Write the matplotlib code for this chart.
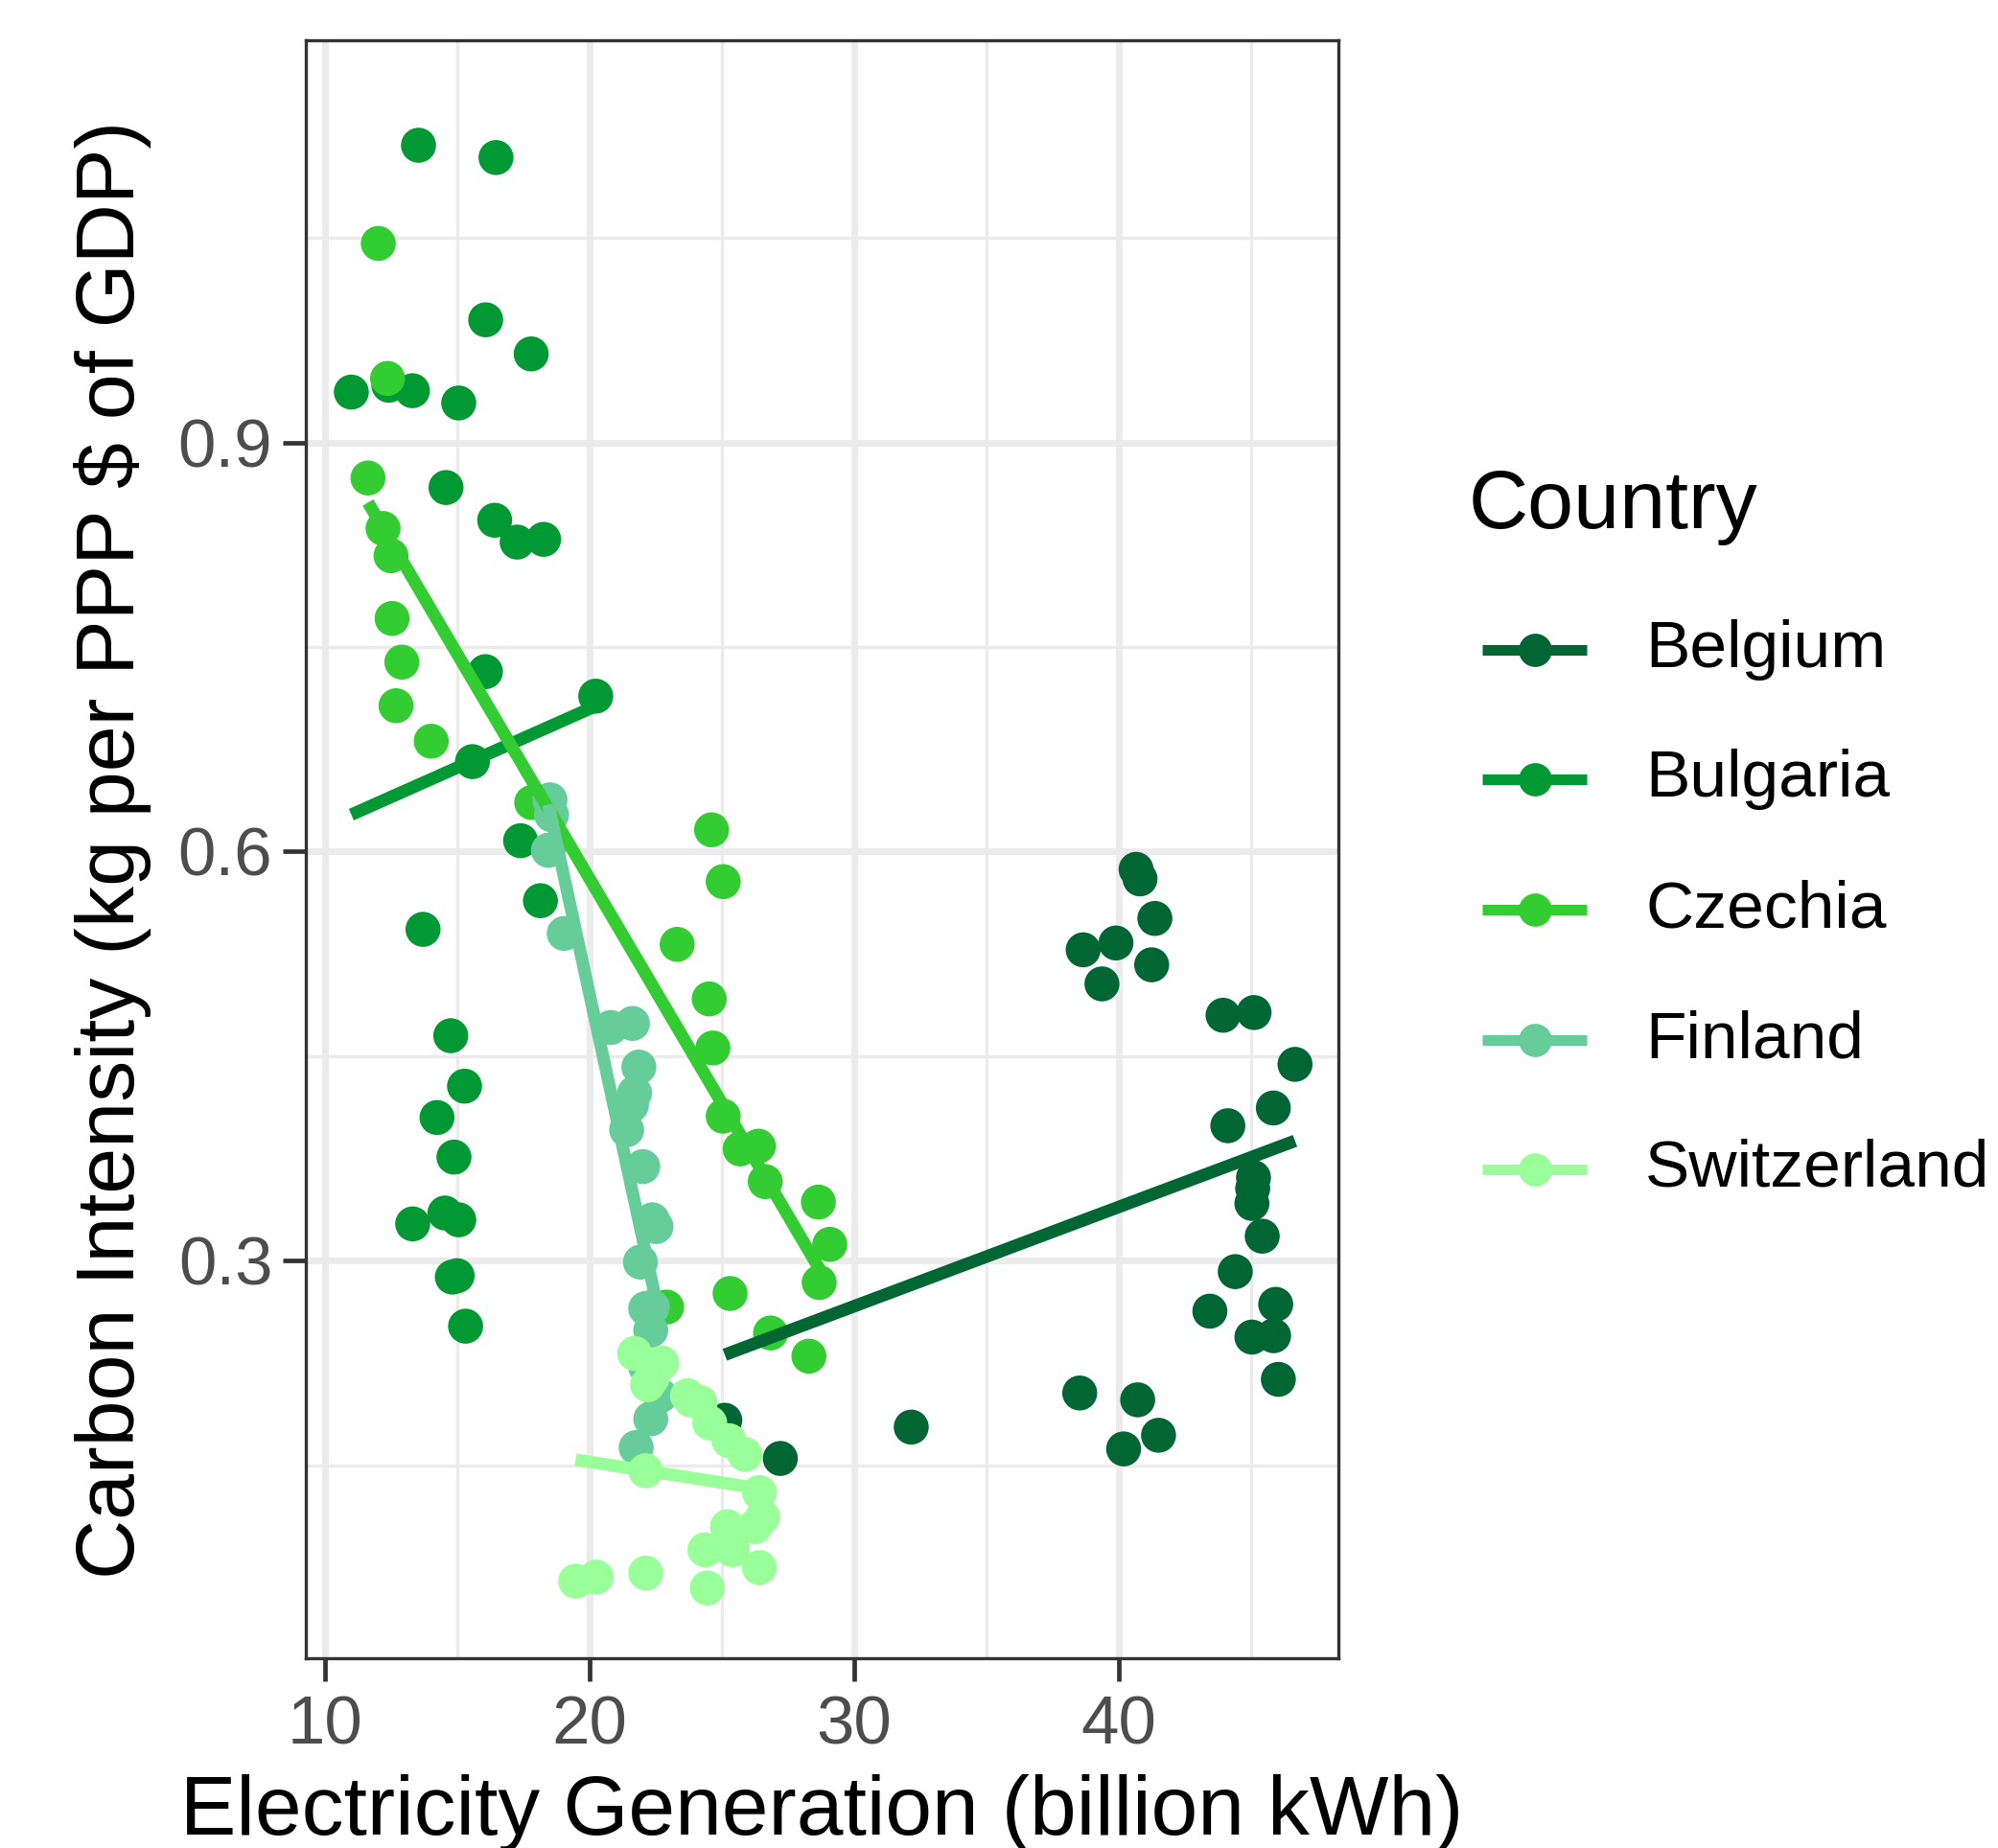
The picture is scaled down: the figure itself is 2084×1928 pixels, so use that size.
import numpy as np
import matplotlib
matplotlib.use("Agg")
import matplotlib.pyplot as plt
from matplotlib.lines import Line2D

plt.rcParams['font.family'] = ['Liberation Sans', 'DejaVu Sans']

countries = ["Belgium", "Bulgaria", "Czechia", "Finland", "Switzerland"]
colors = ["#006633", "#009933", "#33CC33", "#66CC99", "#99FF99"]

belgium_x = [25.1, 27.2, 32.15, 38.52, 38.65, 39.36, 39.89, 40.18, 40.65, 40.8, 40.71, 41.36, 41.24, 41.5,
             43.44, 43.94, 44.12, 44.40, 45.03, 45.03, 45.06, 45.09, 45.11, 45.42, 45.84, 45.85, 45.93, 46.03, 46.66]
belgium_y = [0.183, 0.155, 0.178, 0.203, 0.528, 0.503, 0.533, 0.162, 0.587, 0.580, 0.198, 0.551, 0.517, 0.172,
             0.263, 0.480, 0.399, 0.292, 0.244, 0.342, 0.353, 0.361, 0.482, 0.318, 0.412, 0.245, 0.268, 0.213, 0.444]

bulgaria_x = [10.98, 12.4, 13.29, 13.52, 14.56, 15.04, 16.06, 16.45, 17.78, 16.40, 17.25, 18.25, 16.05, 20.22,
              15.56, 17.38, 18.13, 13.69, 14.74, 15.26, 14.22, 14.86, 14.52, 15.04, 13.30, 14.80, 14.98, 15.30]
bulgaria_y = [0.937, 0.942, 0.938, 1.118, 0.867, 0.929, 0.990, 1.109, 0.965, 0.843, 0.827, 0.829, 0.732, 0.714,
              0.666, 0.608, 0.564, 0.543, 0.465, 0.428, 0.405, 0.376, 0.335, 0.330, 0.327, 0.288, 0.289, 0.252]

czechia_x = [11.61, 12.0, 12.35, 12.18, 12.48, 12.52, 12.89, 12.67, 14.0, 17.80, 24.6, 25.04, 23.3, 24.51,
             24.65, 25.04, 25.68, 26.37, 26.63, 28.64, 29.07, 28.67, 28.28, 25.3, 26.83, 22.9]
czechia_y = [0.874, 1.046, 0.947, 0.837, 0.817, 0.771, 0.739, 0.707, 0.681, 0.636, 0.616, 0.578, 0.532, 0.492,
             0.456, 0.406, 0.382, 0.384, 0.358, 0.343, 0.312, 0.284, 0.230, 0.276, 0.247, 0.266]

finland_x = [18.49, 18.55, 18.43, 19.03, 20.79, 21.61, 21.85, 21.69, 21.57, 21.39, 22.0, 22.36, 22.5, 21.91,
             22.36, 22.11, 22.3, 22.11, 22.66, 22.3, 21.75]
finland_y = [0.638, 0.627, 0.601, 0.540, 0.471, 0.474, 0.442, 0.423, 0.414, 0.396, 0.369, 0.330, 0.325, 0.299,
             0.266, 0.265, 0.249, 0.222, 0.201, 0.184, 0.163]

switzerland_x = [19.46, 20.24, 22.11, 24.44, 21.69, 22.72, 22.18, 23.69, 24.17, 23.81, 24.53, 25.26, 25.86,
                 22.11, 26.41, 26.53, 25.2, 26.23, 24.35, 25.38, 26.41, 22.35]
switzerland_y = [0.065, 0.068, 0.071, 0.060, 0.232, 0.225, 0.209, 0.201, 0.196, 0.198, 0.181, 0.168, 0.158,
                 0.146, 0.130, 0.112, 0.105, 0.105, 0.088, 0.088, 0.075, 0.214]

series_x = [belgium_x, bulgaria_x, czechia_x, finland_x, switzerland_x]
series_y = [belgium_y, bulgaria_y, czechia_y, finland_y, switzerland_y]

x_ticks = [10, 20, 30, 40]
y_ticks = [0.3, 0.6, 0.9]
x_minor = [15, 25, 35, 45]
y_minor = [0.15, 0.45, 0.75, 1.05]

W, H = 2084, 1928
fig = plt.figure(figsize=(W / 100, H / 100), dpi=100)
ax = fig.add_axes([319 / W, 1 - 1730 / H, (1396 - 319) / W, (1730 - 42) / H])

ax.set_xlim(9.26, 48.3)
ax.set_ylim(0.0085, 1.195)
ax.set_xticks(x_ticks)
ax.set_yticks(y_ticks)
ax.set_xticks(x_minor, minor=True)
ax.set_yticks(y_minor, minor=True)
ax.set_xticklabels([str(v) for v in x_ticks])
ax.set_yticklabels([f"{v:.1f}" for v in y_ticks])

ax.grid(which='major', color='#EBEBEB', linewidth=5)
ax.grid(which='minor', color='#EBEBEB', linewidth=2.5)
ax.set_axisbelow(True)

ax.tick_params(axis='both', which='major', length=17, width=3.4, color='#333333',
               labelcolor='#4D4D4D', labelsize=51)
ax.tick_params(axis='x', which='major', pad=11)
ax.tick_params(axis='y', which='major', pad=8)
ax.tick_params(which='minor', length=0)
for s in ax.spines.values():
    s.set_color('#333333')
    s.set_linewidth(2.4)
    s.set_zorder(5)

ms = (36.5 * 0.72) ** 2
for xs, ys, c in zip(series_x, series_y, colors):
    ax.scatter(xs, ys, s=ms, color=c, edgecolors='none', zorder=2)

for xs, ys, c in zip(series_x, series_y, colors):
    xa = np.array(xs)
    ya = np.array(ys)
    b, a = np.polyfit(xa, ya, 1)
    xl = np.array([xa.min(), xa.max()])
    ax.plot(xl, a + b * xl, color=c, linewidth=9.4, solid_capstyle='butt', zorder=3)

ax.set_xlabel("Electricity Generation (billion kWh)", fontsize=63, color='black', va='baseline')
ax.xaxis.set_label_coords(0.5, (1730 - 1914) / (1730 - 42))
ax.set_ylabel("Carbon Intensity (kg per PPP $ of GDP)", fontsize=62, color='black',
              rotation=90, rotation_mode='anchor', ha='center', va='baseline')
ax.yaxis.set_label_coords((140 - 319) / (1396 - 319), 0.5)

# legend
fig.text(1532 / W, 1 - 529 / H, "Country", fontsize=62, color='black', ha='left', va='center')
rows = [678, 813, 949, 1085, 1220]
for name, c, ry in zip(countries, colors, rows):
    yf = 1 - ry / H
    fig.add_artist(Line2D([1546 / W, 1655 / W], [yf, yf], transform=fig.transFigure,
                          color=c, linewidth=8, solid_capstyle='butt'))
    fig.add_artist(Line2D([1600.5 / W], [yf], transform=fig.transFigure, marker='o',
                          markersize=25, color=c, markeredgewidth=0, linestyle='none'))
    fig.text(1716 / W, yf, name, fontsize=50, color='black', ha='left', va='center')

fig.savefig("out.png", dpi=100)
